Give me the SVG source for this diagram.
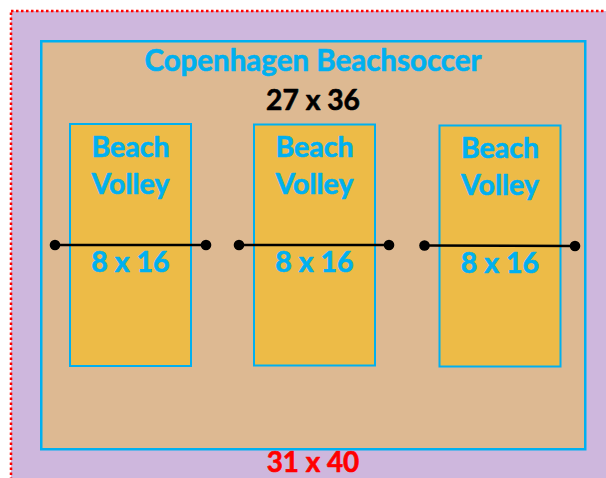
<svg xmlns="http://www.w3.org/2000/svg" width="606" height="478" viewBox="0 0 606 478">
  <defs>
    <style>
      .lbl { font-family: Lato, "Open Sans", "Liberation Sans", sans-serif; font-weight: bold; text-anchor: middle; stroke-width: 0.6px; stroke-linejoin: round; }
      .court { fill: #EDBB47; stroke: #00B0F0; stroke-width: 2; }
      .cyan { fill: #00B0F0; stroke: #00B0F0; font-size: 28.5px; }
      .net { stroke: #000; stroke-width: 2.5; fill: none; }
      .dot { fill: #000; }
    </style>
  </defs>
  <rect width="606" height="478" fill="#ffffff"/>
  <g id="outer-area">
    <rect x="11" y="11" width="605" height="477" fill="#CEB7DD" stroke="#FF0000" stroke-width="2.5" stroke-dasharray="2.5 2.5"/>
    <text class="lbl" x="313" y="472" font-size="27.8" fill="#FF0000" stroke="#FF0000">31 x 40</text>
  </g>
  <g id="beachsoccer-field">
    <rect x="41.25" y="41.25" width="544" height="408" fill="#DDB992" stroke="#00B0F0" stroke-width="2.5"/>
    <text class="lbl cyan" x="313" y="71" style="font-size:29.5px">Copenhagen Beachsoccer</text>
    <text class="lbl" x="313" y="110" font-size="28.2" fill="#000000" stroke="#000000">27 x 36</text>
  </g>
  <g id="court-1">
    <rect class="court" x="70" y="124" width="121" height="242"/>
    <text class="lbl cyan" x="130.5" y="157">Beach</text>
    <text class="lbl cyan" x="130.5" y="194">Volley</text>
    <text class="lbl cyan" x="130.5" y="272">8 x 16</text>
  </g>
  <g id="court-2">
    <rect class="court" x="254" y="124.5" width="121" height="241"/>
    <text class="lbl cyan" x="314.5" y="157">Beach</text>
    <text class="lbl cyan" x="314.5" y="194">Volley</text>
    <text class="lbl cyan" x="314.5" y="272">8 x 16</text>
  </g>
  <g id="court-3">
    <rect class="court" x="439.5" y="125.5" width="121" height="241"/>
    <text class="lbl cyan" x="500" y="158">Beach</text>
    <text class="lbl cyan" x="500" y="195">Volley</text>
    <text class="lbl cyan" x="500" y="273">8 x 16</text>
  </g>
  <g id="connectors">
    <line class="net" x1="55" y1="245" x2="206" y2="245"/>
    <circle class="dot" cx="55" cy="245" r="5.3"/>
    <circle class="dot" cx="206" cy="245" r="5.3"/>
    <line class="net" x1="239" y1="245" x2="389" y2="245"/>
    <circle class="dot" cx="239" cy="245" r="5.3"/>
    <circle class="dot" cx="389" cy="245" r="5.3"/>
    <line class="net" x1="424.5" y1="245.5" x2="575" y2="246"/>
    <circle class="dot" cx="424.5" cy="245.5" r="5.3"/>
    <circle class="dot" cx="575" cy="246" r="5.3"/>
  </g>
</svg>
